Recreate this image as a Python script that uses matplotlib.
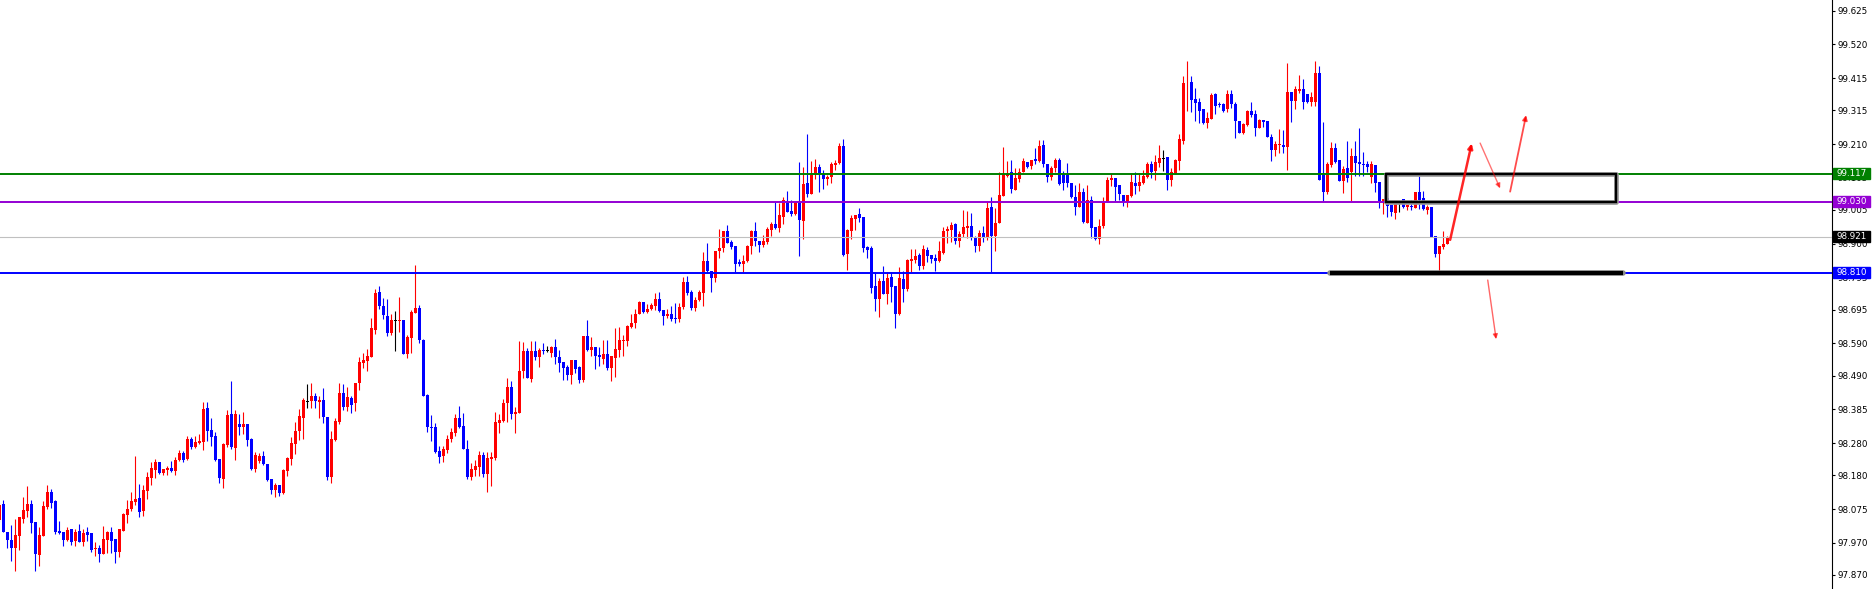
import numpy as np
import matplotlib
matplotlib.use("Agg")
import matplotlib.pyplot as plt
from matplotlib.patches import Rectangle
from matplotlib.transforms import blended_transform_factory

# candle data (one candle per bar, oldest first)
opens = [
    98.041, 98.091, 98.005, 97.979, 97.955, 97.991, 98.044, 98.070, 98.091, 98.035,
    97.932, 97.992, 98.082, 98.128, 98.101, 98.007, 98.003, 97.979, 98.013, 97.975,
    98.007, 97.972, 98.003, 97.999, 97.952, 97.955, 97.934, 97.979, 98.003, 97.982,
    97.942, 98.008, 98.056, 98.075, 98.098, 98.109, 98.069, 98.132, 98.172, 98.196,
    98.221, 98.186, 98.196, 98.203, 98.194, 98.227, 98.250, 98.229, 98.293, 98.269,
    98.281, 98.284, 98.389, 98.321, 98.302, 98.231, 98.169, 98.274, 98.370, 98.266,
    98.340, 98.331, 98.339, 98.293, 98.199, 98.224, 98.240, 98.215, 98.168, 98.134,
    98.150, 98.126, 98.194, 98.231, 98.278, 98.318, 98.359, 98.409, 98.411, 98.426,
    98.409, 98.414, 98.362, 98.176, 98.290, 98.345, 98.435, 98.393, 98.420, 98.406,
    98.466, 98.530, 98.536, 98.549, 98.632, 98.749, 98.706, 98.675, 98.623, 98.662,
    98.661, 98.663, 98.557, 98.608, 98.684, 98.700, 98.601, 98.430, 98.331, 98.331,
    98.255, 98.241, 98.259, 98.293, 98.310, 98.359, 98.333, 98.262, 98.176, 98.196,
    98.207, 98.243, 98.184, 98.231, 98.233, 98.344, 98.349, 98.406, 98.455, 98.369,
    98.375, 98.505, 98.566, 98.479, 98.566, 98.549, 98.569, 98.567, 98.561, 98.580,
    98.547, 98.531, 98.518, 98.492, 98.538, 98.518, 98.476, 98.614, 98.569, 98.578,
    98.553, 98.541, 98.557, 98.515, 98.546, 98.570, 98.599, 98.599, 98.642, 98.652,
    98.681, 98.718, 98.689, 98.696, 98.706, 98.728, 98.694, 98.675, 98.681, 98.668,
    98.666, 98.704, 98.782, 98.750, 98.701, 98.725, 98.748, 98.846, 98.815, 98.794,
    98.877, 98.886, 98.941, 98.906, 98.893, 98.844, 98.837, 98.846, 98.893, 98.940,
    98.910, 98.896, 98.906, 98.943, 98.961, 98.948, 98.984, 99.033, 99.002, 98.992,
    99.028, 98.972, 99.090, 99.055, 99.114, 99.138, 99.116, 99.101, 99.109, 99.145,
    99.150, 99.204, 98.868, 98.941, 98.977, 98.992, 98.982, 98.891, 98.886, 98.770,
    98.728, 98.784, 98.744, 98.798, 98.770, 98.680, 98.790, 98.759, 98.846, 98.849,
    98.865, 98.832, 98.880, 98.865, 98.857, 98.846, 98.872, 98.941, 98.943, 98.961,
    98.907, 98.929, 98.950, 98.955, 98.921, 98.894, 98.932, 98.917, 99.015, 98.925,
    98.965, 99.049, 99.112, 99.122, 99.067, 99.100, 99.122, 99.155, 99.143, 99.163,
    99.157, 99.206, 99.148, 99.109, 99.134, 99.160, 99.117, 99.117, 99.088, 99.046,
    99.015, 99.060, 98.966, 99.036, 98.951, 98.915, 98.956, 99.029, 99.098, 99.105,
    99.083, 99.052, 99.029, 99.049, 99.088, 99.081, 99.090, 99.109, 99.148, 99.126,
    99.152, 99.166, 99.169, 99.098, 99.119, 99.158, 99.221, 99.399, 99.404, 99.349,
    99.342, 99.318, 99.274, 99.288, 99.366, 99.335, 99.335, 99.319, 99.366, 99.335,
    99.283, 99.243, 99.269, 99.313, 99.303, 99.261, 99.285, 99.283, 99.233, 99.191,
    99.207, 99.207, 99.202, 99.373, 99.344, 99.376, 99.380, 99.366, 99.342, 99.340,
    99.430, 99.119, 99.060, 99.145, 99.197, 99.160, 99.095, 99.134, 99.124, 99.174,
    99.155, 99.148, 99.148, 99.107, 99.145, 99.091, 99.033, 99.041, 99.020, 98.997,
    99.024, 99.038, 99.013, 99.017, 99.012, 99.062, 99.041, 99.005, 99.013, 98.924,
    98.868, 98.889, 98.898,
]
highs = [
    98.095, 98.103, 98.005, 98.025, 98.044, 98.049, 98.113, 98.148, 98.103, 98.035,
    98.018, 98.100, 98.150, 98.138, 98.103, 98.039, 98.003, 98.018, 98.013, 98.014,
    98.028, 98.014, 98.020, 98.001, 97.973, 97.963, 98.022, 98.008, 98.018, 97.982,
    98.014, 98.062, 98.103, 98.128, 98.240, 98.153, 98.150, 98.189, 98.222, 98.232,
    98.221, 98.198, 98.209, 98.224, 98.236, 98.258, 98.256, 98.302, 98.298, 98.302,
    98.308, 98.407, 98.408, 98.358, 98.315, 98.231, 98.281, 98.383, 98.473, 98.383,
    98.370, 98.376, 98.339, 98.295, 98.252, 98.250, 98.255, 98.215, 98.168, 98.156,
    98.150, 98.199, 98.238, 98.298, 98.346, 98.385, 98.419, 98.464, 98.466, 98.437,
    98.426, 98.451, 98.362, 98.318, 98.359, 98.468, 98.464, 98.453, 98.427, 98.467,
    98.547, 98.559, 98.572, 98.668, 98.759, 98.769, 98.732, 98.728, 98.681, 98.691,
    98.734, 98.663, 98.616, 98.694, 98.834, 98.709, 98.603, 98.433, 98.367, 98.341,
    98.271, 98.271, 98.305, 98.326, 98.371, 98.396, 98.375, 98.290, 98.219, 98.227,
    98.255, 98.252, 98.253, 98.252, 98.377, 98.369, 98.418, 98.483, 98.473, 98.391,
    98.597, 98.594, 98.575, 98.596, 98.599, 98.575, 98.590, 98.582, 98.583, 98.604,
    98.571, 98.531, 98.523, 98.538, 98.538, 98.520, 98.614, 98.663, 98.611, 98.578,
    98.580, 98.601, 98.601, 98.552, 98.639, 98.642, 98.616, 98.647, 98.681, 98.696,
    98.722, 98.718, 98.713, 98.715, 98.746, 98.749, 98.694, 98.697, 98.707, 98.715,
    98.715, 98.798, 98.800, 98.756, 98.735, 98.756, 98.875, 98.903, 98.815, 98.877,
    98.946, 98.941, 98.958, 98.912, 98.893, 98.851, 98.865, 98.896, 98.943, 98.969,
    98.910, 98.927, 98.953, 98.969, 99.031, 99.028, 99.044, 99.064, 99.036, 99.033,
    99.153, 99.138, 99.241, 99.158, 99.164, 99.148, 99.129, 99.114, 99.153, 99.160,
    99.212, 99.225, 98.945, 98.989, 98.989, 99.010, 98.982, 98.894, 98.893, 98.813,
    98.792, 98.831, 98.813, 98.813, 98.770, 98.829, 98.815, 98.851, 98.884, 98.884,
    98.872, 98.896, 98.889, 98.865, 98.867, 98.909, 98.951, 98.955, 98.967, 98.963,
    98.940, 99.005, 99.002, 98.997, 98.924, 98.943, 98.955, 99.031, 99.046, 99.010,
    99.124, 99.202, 99.158, 99.160, 99.137, 99.137, 99.166, 99.155, 99.160, 99.199,
    99.223, 99.223, 99.148, 99.142, 99.166, 99.166, 99.126, 99.152, 99.088, 99.083,
    99.090, 99.074, 99.083, 99.048, 98.951, 98.977, 99.046, 99.107, 99.116, 99.105,
    99.083, 99.052, 99.052, 99.119, 99.122, 99.119, 99.129, 99.155, 99.157, 99.176,
    99.207, 99.191, 99.169, 99.134, 99.164, 99.241, 99.423, 99.468, 99.423, 99.385,
    99.354, 99.318, 99.311, 99.370, 99.370, 99.342, 99.339, 99.378, 99.378, 99.342,
    99.283, 99.274, 99.316, 99.342, 99.316, 99.288, 99.285, 99.283, 99.241, 99.219,
    99.256, 99.254, 99.461, 99.373, 99.391, 99.425, 99.412, 99.366, 99.373, 99.468,
    99.453, 99.279, 99.153, 99.215, 99.212, 99.160, 99.142, 99.219, 99.199, 99.219,
    99.259, 99.184, 99.158, 99.158, 99.145, 99.093, 99.039, 99.041, 99.020, 99.024,
    99.028, 99.038, 99.020, 99.036, 99.062, 99.112, 99.064, 99.020, 99.013, 98.924,
    98.893, 98.940, 98.924,
]
lows = [
    98.035, 98.005, 97.955, 97.914, 97.883, 97.948, 98.030, 98.051, 98.001, 97.883,
    97.899, 97.992, 98.076, 98.079, 97.997, 97.997, 97.960, 97.975, 97.963, 97.960,
    97.973, 97.960, 97.977, 97.942, 97.930, 97.911, 97.934, 97.939, 97.939, 97.906,
    97.927, 98.008, 98.033, 98.068, 98.087, 98.051, 98.053, 98.106, 98.150, 98.171,
    98.184, 98.181, 98.181, 98.189, 98.181, 98.224, 98.222, 98.227, 98.262, 98.264,
    98.276, 98.259, 98.286, 98.271, 98.224, 98.155, 98.141, 98.269, 98.261, 98.227,
    98.305, 98.308, 98.272, 98.196, 98.189, 98.217, 98.212, 98.162, 98.121, 98.113,
    98.115, 98.122, 98.179, 98.212, 98.246, 98.290, 98.293, 98.390, 98.390, 98.390,
    98.359, 98.343, 98.165, 98.155, 98.286, 98.338, 98.383, 98.380, 98.375, 98.380,
    98.445, 98.512, 98.505, 98.549, 98.619, 98.696, 98.667, 98.613, 98.616, 98.567,
    98.627, 98.557, 98.546, 98.561, 98.684, 98.592, 98.427, 98.316, 98.286, 98.248,
    98.217, 98.222, 98.248, 98.284, 98.303, 98.328, 98.262, 98.168, 98.165, 98.178,
    98.178, 98.176, 98.129, 98.148, 98.227, 98.312, 98.347, 98.347, 98.355, 98.312,
    98.373, 98.481, 98.481, 98.471, 98.538, 98.518, 98.557, 98.562, 98.549, 98.527,
    98.500, 98.476, 98.476, 98.464, 98.499, 98.466, 98.469, 98.566, 98.551, 98.510,
    98.521, 98.526, 98.507, 98.474, 98.487, 98.549, 98.552, 98.582, 98.639, 98.639,
    98.681, 98.684, 98.686, 98.694, 98.694, 98.687, 98.647, 98.668, 98.660, 98.655,
    98.658, 98.696, 98.741, 98.694, 98.692, 98.723, 98.707, 98.808, 98.749, 98.782,
    98.857, 98.875, 98.903, 98.884, 98.811, 98.832, 98.811, 98.844, 98.868, 98.893,
    98.875, 98.891, 98.899, 98.924, 98.946, 98.937, 98.961, 98.998, 98.986, 98.989,
    98.862, 98.915, 99.046, 99.055, 99.101, 99.062, 99.070, 99.083, 99.090, 99.129,
    99.148, 98.862, 98.818, 98.915, 98.943, 98.967, 98.873, 98.857, 98.746, 98.691,
    98.673, 98.743, 98.713, 98.720, 98.639, 98.678, 98.720, 98.753, 98.813, 98.841,
    98.818, 98.821, 98.844, 98.839, 98.816, 98.844, 98.868, 98.901, 98.906, 98.899,
    98.891, 98.922, 98.917, 98.912, 98.875, 98.878, 98.906, 98.912, 98.813, 98.878,
    98.963, 99.048, 99.109, 99.059, 99.067, 99.093, 99.122, 99.134, 99.132, 99.148,
    99.155, 99.140, 99.093, 99.098, 99.124, 99.083, 99.067, 99.077, 99.043, 98.989,
    99.015, 98.963, 98.966, 98.919, 98.912, 98.899, 98.948, 99.029, 99.081, 99.033,
    99.036, 99.018, 99.015, 99.046, 99.055, 99.065, 99.086, 99.105, 99.105, 99.098,
    99.140, 99.127, 99.067, 99.081, 99.117, 99.129, 99.209, 99.313, 99.311, 99.283,
    99.277, 99.272, 99.259, 99.288, 99.302, 99.326, 99.309, 99.311, 99.321, 99.230,
    99.245, 99.241, 99.267, 99.293, 99.235, 99.261, 99.262, 99.233, 99.158, 99.174,
    99.181, 99.181, 99.129, 99.280, 99.318, 99.368, 99.319, 99.337, 99.329, 99.329,
    99.098, 99.033, 99.055, 99.140, 99.150, 99.096, 99.057, 99.093, 99.033, 99.111,
    99.111, 99.111, 99.122, 99.088, 99.062, 99.010, 98.994, 98.984, 98.987, 98.976,
    99.000, 99.010, 99.005, 99.005, 99.010, 99.008, 99.005, 98.994, 98.920, 98.860,
    98.816, 98.883, 98.898,
]
closes = [
    98.087, 98.005, 97.979, 97.955, 97.994, 98.049, 98.072, 98.091, 98.033, 97.935,
    97.993, 98.084, 98.128, 98.095, 98.005, 98.001, 97.979, 98.010, 97.972, 98.003,
    97.973, 97.999, 97.995, 97.948, 97.955, 97.934, 97.981, 98.005, 97.977, 97.942,
    98.012, 98.059, 98.075, 98.101, 98.106, 98.067, 98.134, 98.176, 98.203, 98.221,
    98.188, 98.198, 98.204, 98.194, 98.227, 98.250, 98.227, 98.292, 98.269, 98.282,
    98.286, 98.386, 98.318, 98.300, 98.227, 98.172, 98.276, 98.367, 98.269, 98.369,
    98.331, 98.340, 98.290, 98.199, 98.243, 98.240, 98.214, 98.165, 98.134, 98.150,
    98.126, 98.196, 98.234, 98.281, 98.318, 98.365, 98.414, 98.409, 98.426, 98.412,
    98.414, 98.362, 98.176, 98.293, 98.348, 98.435, 98.393, 98.423, 98.399, 98.467,
    98.532, 98.538, 98.551, 98.637, 98.748, 98.707, 98.677, 98.623, 98.663, 98.662,
    98.663, 98.557, 98.609, 98.688, 98.700, 98.601, 98.427, 98.331, 98.328, 98.252,
    98.238, 98.261, 98.293, 98.316, 98.359, 98.330, 98.262, 98.173, 98.199, 98.209,
    98.243, 98.184, 98.233, 98.238, 98.347, 98.352, 98.406, 98.455, 98.370, 98.377,
    98.505, 98.566, 98.481, 98.566, 98.549, 98.569, 98.566, 98.567, 98.580, 98.549,
    98.530, 98.515, 98.492, 98.538, 98.511, 98.476, 98.614, 98.569, 98.578, 98.551,
    98.547, 98.557, 98.515, 98.552, 98.573, 98.601, 98.601, 98.644, 98.654, 98.680,
    98.718, 98.689, 98.697, 98.709, 98.728, 98.692, 98.676, 98.681, 98.666, 98.666,
    98.704, 98.782, 98.746, 98.699, 98.725, 98.749, 98.846, 98.815, 98.794, 98.877,
    98.888, 98.941, 98.903, 98.889, 98.837, 98.837, 98.846, 98.893, 98.940, 98.909,
    98.896, 98.910, 98.946, 98.961, 98.948, 98.989, 99.036, 99.000, 98.992, 99.028,
    98.974, 99.086, 99.055, 99.114, 99.138, 99.119, 99.101, 99.109, 99.148, 99.152,
    99.204, 98.865, 98.943, 98.981, 98.989, 98.981, 98.888, 98.881, 98.763, 98.728,
    98.784, 98.743, 98.794, 98.766, 98.681, 98.794, 98.759, 98.849, 98.852, 98.863,
    98.832, 98.884, 98.862, 98.852, 98.846, 98.877, 98.940, 98.946, 98.957, 98.910,
    98.930, 98.953, 98.955, 98.917, 98.894, 98.932, 98.917, 99.012, 98.925, 98.965,
    99.052, 99.116, 99.116, 99.070, 99.105, 99.124, 99.157, 99.140, 99.160, 99.157,
    99.204, 99.147, 99.109, 99.136, 99.160, 99.086, 99.090, 99.088, 99.046, 99.015,
    99.060, 98.967, 99.036, 98.950, 98.915, 98.956, 99.031, 99.098, 99.105, 99.077,
    99.054, 99.029, 99.052, 99.091, 99.081, 99.091, 99.112, 99.148, 99.124, 99.153,
    99.168, 99.166, 99.098, 99.124, 99.160, 99.226, 99.399, 99.401, 99.347, 99.339,
    99.314, 99.277, 99.290, 99.363, 99.329, 99.331, 99.314, 99.366, 99.335, 99.283,
    99.245, 99.271, 99.313, 99.300, 99.261, 99.285, 99.278, 99.233, 99.191, 99.210,
    99.210, 99.202, 99.373, 99.344, 99.380, 99.380, 99.342, 99.342, 99.355, 99.430,
    99.098, 99.060, 99.148, 99.197, 99.155, 99.096, 99.132, 99.105, 99.174, 99.152,
    99.147, 99.145, 99.138, 99.147, 99.090, 99.033, 99.039, 99.017, 99.000, 99.024,
    99.024, 99.013, 99.020, 99.013, 99.062, 99.036, 99.008, 99.015, 98.922, 98.868,
    98.893, 98.899, 98.919,
]

tick_values = [99.625, 99.520, 99.415, 99.315, 99.210, 99.105, 99.005, 98.900, 98.795,
               98.695, 98.590, 98.490, 98.385, 98.280, 98.180, 98.075, 97.970, 97.870]

# horizontal levels: price, line colour, label background, line width (pt)
levels = [99.117, 99.030, 98.921, 98.810]
level_colors = ["#008000", "#9400D3", "#C0C0C0", "#0000FF"]
label_colors = ["#008000", "#9400D3", "#000000", "#0000FF"]
level_widths = [1.4, 1.4, 0.8, 1.4]

# drawn objects (x in bar units)
zone = (346.7, 404.2, 99.030, 99.117)
support = (332.7, 405.9, 98.810)
arrows = [  # x0, y0, x1, y1, lw, alpha
    (362.7, 98.912, 368.1, 99.212, 1.8, 0.85),
    (370.2, 99.213, 375.2, 99.072, 1.0, 0.55),
    (377.7, 99.062, 381.7, 99.300, 1.3, 0.7),
    (372.1, 98.787, 374.2, 98.603, 1.0, 0.6),
]

W, H = 1873, 589
PLOT_W = 1832
Y_TOP = 99.658
PX = 0.00311  # price per pixel

fig = plt.figure(figsize=(W / 100, H / 100), dpi=100)
ax = fig.add_axes([0, 0, PLOT_W / W, 1])

o, h, l, c = (np.array(v) for v in (opens, highs, lows, closes))
x = np.arange(len(c))
col = np.where(c > o, "#FF0000", np.where(c < o, "#0000FF", "#000000"))

ax.vlines(x, l, h, colors=col, lw=0.8, zorder=3)
body = np.maximum(np.abs(c - o), PX * 0.9)
bottom = (o + c) / 2 - body / 2
ax.bar(x, body, bottom=bottom, width=0.75, color=col, lw=0, zorder=3)

for lvl, lc, lw in zip(levels, level_colors, level_widths):
    ax.axhline(lvl, color=lc, lw=lw, zorder=4)

# rectangle zone with a soft grey edge
x0, x1, y0, y1 = zone
ax.add_patch(Rectangle((x0, y0), x1 - x0, y1 - y0, fill=False, ec="#9a9a9a",
                       lw=3.4, zorder=5, joinstyle="round"))
ax.add_patch(Rectangle((x0, y0), x1 - x0, y1 - y0, fill=False, ec="black",
                       lw=1.7, zorder=6, joinstyle="miter"))

sx0, sx1, sy = support
ax.plot([sx0, sx1], [sy, sy], color="#8a8a8a", lw=4.0, solid_capstyle="round", zorder=5)
ax.plot([sx0, sx1], [sy, sy], color="black", lw=3.0, solid_capstyle="butt", zorder=6)

for ax0, ay0, ax1, ay1, lw, a in arrows:
    ax.annotate("", xy=(ax1, ay1), xytext=(ax0, ay0),
                arrowprops=dict(arrowstyle="-|>", color="red", lw=lw, alpha=a,
                                mutation_scale=7, shrinkA=0, shrinkB=0),
                zorder=7)

ax.set_xlim(0.1675, 0.1675 + PLOT_W / 4)
ax.set_ylim(Y_TOP - H * PX, Y_TOP)

for s in ("top", "left", "bottom"):
    ax.spines[s].set_visible(False)
ax.spines["right"].set_color("black")
ax.spines["right"].set_linewidth(0.8)
ax.set_xticks([])
ax.yaxis.tick_right()
ax.set_yticks(tick_values)
ax.set_yticklabels([f"{v:.3f}" for v in tick_values])
ax.tick_params(axis="y", direction="out", length=2.2, width=0.8, pad=1.6,
               labelsize=6.3, colors="black")

# price labels on the axis for each level
trans = blended_transform_factory(ax.transAxes, ax.transData)
box_h = 11 * PX
for lvl, bg in zip(levels, label_colors):
    ax.add_patch(Rectangle((1.0004, lvl - box_h / 2), 37 / PLOT_W, box_h,
                           transform=trans, color=bg, clip_on=False, zorder=10))
    ax.text(1.0 + 5 / PLOT_W, lvl, f"{lvl:.3f}", transform=trans, color="white",
            fontsize=6.3, ha="left", va="center", clip_on=False, zorder=11)

fig.savefig("out.png", dpi=100)
